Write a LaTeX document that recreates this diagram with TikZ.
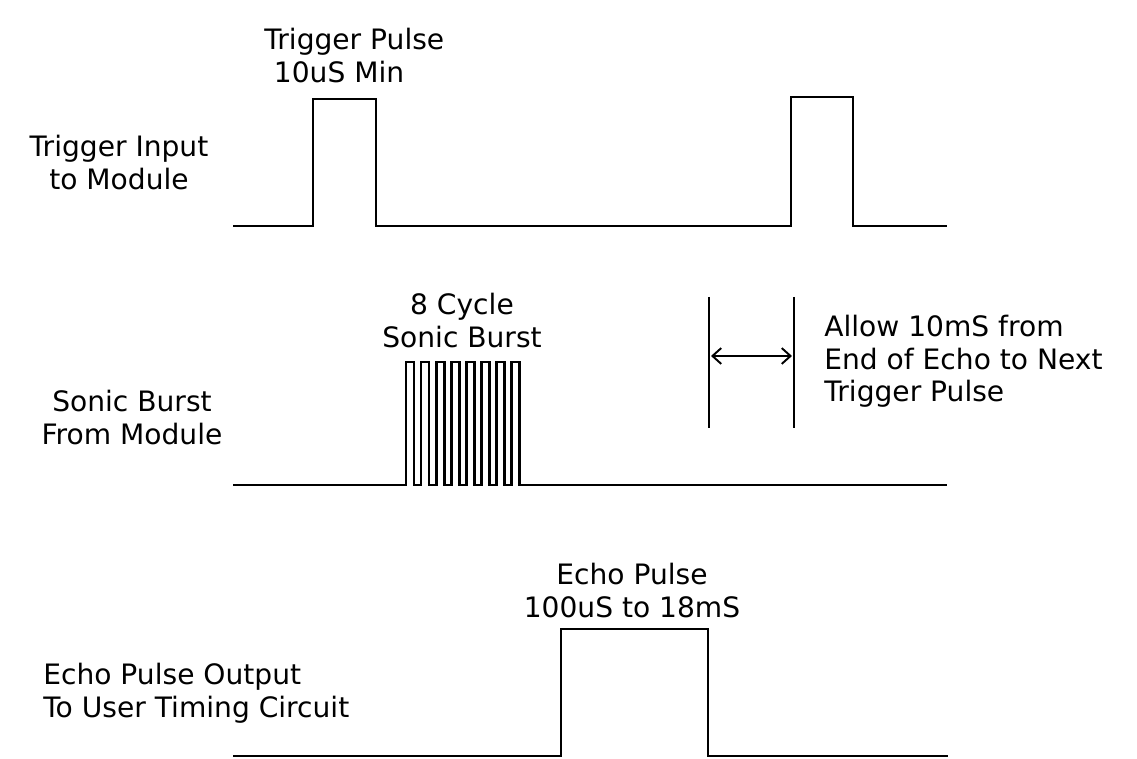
\documentclass[tikz,border=0pt]{standalone}
\usepackage{fontspec}
\setmainfont{DejaVu Sans}
\usetikzlibrary{arrows.meta, positioning}

\begin{document}
\begin{tikzpicture}[x=0.02cm, y=-0.02cm, line width=1.5pt,
    txt/.style={font=\fontsize{16}{18.5}\selectfont, inner sep=0pt, anchor=north, align=center}]
    \useasboundingbox (0,0) rectangle (1137,759);
    \draw (233,226) -- (313,226) -- (313,99) -- (376,99) -- (376,226) -- (791,226) -- (791,97) -- (853,97) -- (853,226) -- (947,226);
    \draw (233,485) -- (406,485) \foreach \k in {1,...,8} { -- ++(0,-123) -- ++(8,0) -- ++(0,123) -- ++(7.1,0)} -- (947,485);
    \draw (233,756) -- (561,756) -- (561,629) -- (708,629) -- (708,756) -- (948,756);
    \draw (709,297) -- (709,428);
    \draw (794,297) -- (794,428);
    \coordinate (waitL) at (711,356);
    \coordinate (waitR) at (792,356);
    \draw[{Straight Barb[length=5pt, width=9pt]}-{Straight Barb[length=5pt, width=9pt]}, line width=1.1pt] (waitL) -- (waitR);
    \node[txt, anchor=north west, align=left] (trigpulse) at (263,27) {Trigger Pulse\\\hspace*{5.5pt}10uS Min};
    \node[txt] (triglabel) at (119,134) {Trigger Input\\to Module};
    \node[txt] (burstnote) at (462,292) {8 Cycle\\Sonic Burst};
    \node[txt] (burstlabel) at (132,389) {Sonic Burst\\From Module};
    \node[txt, anchor=north west, align=left] (waitnote) at (823,314) {Allow 10mS from\\End of Echo to Next\\Trigger Pulse};
    \node[txt] (echopulse) at (632,562) {Echo Pulse\\100uS to 18mS};
    \node[txt, anchor=north west, align=left] (echolabel) at (42,662) {Echo Pulse Output\\To User Timing Circuit};
\end{tikzpicture}
\end{document}
